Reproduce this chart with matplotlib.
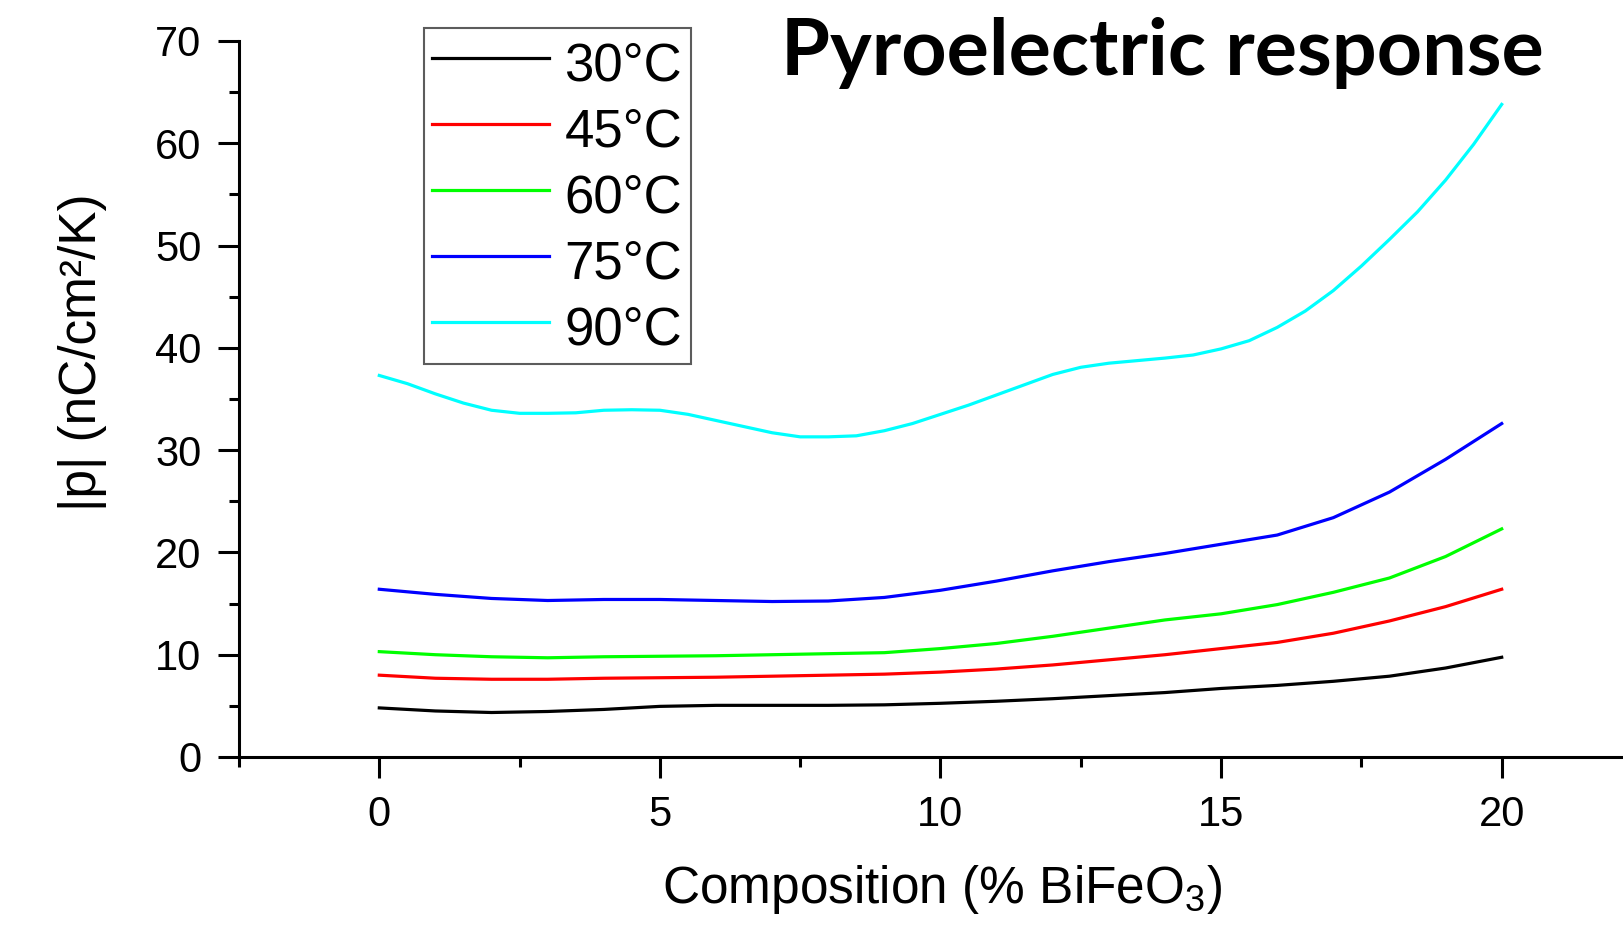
import numpy as np
import matplotlib
matplotlib.use("Agg")
from matplotlib import pyplot as plt
from matplotlib.ticker import MultipleLocator

# composition (% BiFeO3)
composition = [0, 1, 2, 3, 4, 5, 6, 7, 8, 9, 10, 11, 12, 13, 14, 15, 16, 17, 18, 19, 20]
# 90°C eğrisi daha kıvrımlı, yarım adımlarla okundu
composition_90 = [0, 0.5, 1, 1.5, 2, 2.5, 3, 3.5, 4, 4.5, 5, 5.5, 6, 6.5, 7, 7.5,
                  8, 8.5, 9, 9.5, 10, 10.5, 11, 11.5, 12, 12.5, 13, 13.5, 14,
                  14.5, 15, 15.5, 16, 16.5, 17, 17.5, 18, 18.5, 19, 19.5, 20]

# |p| (nC/cm2/K) for each temperature
p_30 = [4.8, 4.5, 4.35, 4.45, 4.65, 4.95, 5.05, 5.05, 5.05, 5.1, 5.25,
        5.45, 5.7, 6.0, 6.3, 6.7, 7.0, 7.4, 7.9, 8.7, 9.75]
p_45 = [8.0, 7.7, 7.6, 7.6, 7.7, 7.75, 7.8, 7.9, 8.0, 8.1, 8.3,
        8.6, 9.0, 9.5, 10.0, 10.6, 11.2, 12.1, 13.3, 14.7, 16.4]
p_60 = [10.3, 10.0, 9.8, 9.7, 9.8, 9.85, 9.9, 10.0, 10.1, 10.2, 10.6,
        11.1, 11.8, 12.6, 13.4, 14.0, 14.9, 16.1, 17.5, 19.6, 22.3]
p_75 = [16.4, 15.9, 15.5, 15.3, 15.4, 15.4, 15.3, 15.2, 15.25, 15.6, 16.3,
        17.2, 18.2, 19.1, 19.9, 20.8, 21.7, 23.4, 25.9, 29.1, 32.6]
p_90 = [37.3, 36.5, 35.5, 34.6, 33.9, 33.6, 33.6, 33.65, 33.9, 33.95, 33.9,
        33.5, 32.9, 32.3, 31.7, 31.3, 31.3, 31.4, 31.9, 32.6, 33.5,
        34.4, 35.4, 36.4, 37.4, 38.1, 38.5, 38.75, 39.0, 39.3, 39.9,
        40.7, 42.0, 43.6, 45.6, 48.0, 50.6, 53.3, 56.4, 59.9, 63.8]

labels = ["30°C", "45°C", "60°C", "75°C", "90°C"]
colors = ["#000000", "#ff0000", "#00ff00", "#0000ff", "#00ffff"]
xs = [composition, composition, composition, composition, composition_90]
series = [p_30, p_45, p_60, p_75, p_90]

plt.rcParams["font.family"] = ["Liberation Sans", "DejaVu Sans"]
plt.rcParams["mathtext.fontset"] = "custom"
plt.rcParams["mathtext.rm"] = "Liberation Sans"

W, H = 1624, 925
fig = plt.figure(figsize=(W / 100, H / 100), dpi=100)
# eksen kutusu (sağ uç görüntünün dışına taşıyor)
ax = fig.add_axes([239 / W, (H - 757) / H, (1642 - 239) / W, (757 - 41) / H])

for x, vals, lab, col in zip(xs, series, labels, colors):
    ax.plot(x, vals, color=col, lw=2.3, label=lab)

ax.set_xlim(-2.5, 22.5)
ax.set_ylim(0, 70)
ax.spines["top"].set_visible(False)
ax.spines["right"].set_visible(False)
ax.spines["left"].set_linewidth(2.2)
ax.spines["bottom"].set_linewidth(2.2)

ax.xaxis.set_major_locator(MultipleLocator(5))
ax.xaxis.set_minor_locator(MultipleLocator(2.5))
ax.yaxis.set_major_locator(MultipleLocator(10))
ax.yaxis.set_minor_locator(MultipleLocator(5))
ax.tick_params(which="major", direction="out", length=15, width=2.2,
               labelsize=30, pad=12)
ax.tick_params(which="minor", direction="out", length=7.5, width=2.2)

# eksen başlıkları
fig.text(83 / W, 1 - 352 / H, "|p| (nC/cm²/K)", rotation=90,
         ha="center", va="center", fontsize=37)
fig.text(942 / W, 1 - 889 / H, r"Composition (% BiFeO$_\mathregular{3}$)",
         ha="center", va="center", fontsize=37)

# grafik başlığı
fig.text(1162 / W, 1 - 75 / H, "Pyroelectric response", ha="center",
         va="baseline", fontsize=57, fontweight="bold", family="Lato")

leg = ax.legend(loc="upper left", bbox_to_anchor=(424 / W, 1 - 28 / H),
                bbox_transform=fig.transFigure, fontsize=38, frameon=True,
                fancybox=False, edgecolor="#333333", borderaxespad=0,
                handlelength=2.2, handletextpad=0.3, handleheight=1.15,
                labelspacing=0.205, borderpad=0.16)
leg.get_frame().set_linewidth(1.5)

fig.savefig("out.png", dpi=100)
